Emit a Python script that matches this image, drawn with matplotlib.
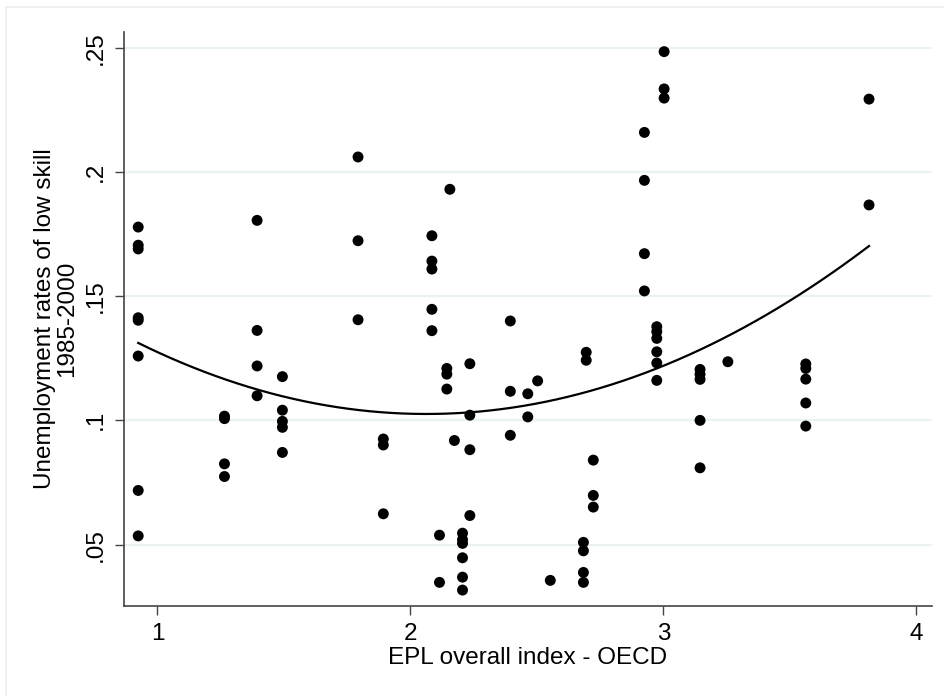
import numpy as np
import matplotlib.pyplot as plt
from matplotlib.patches import Rectangle

# EPL index (x) and low-skill unemployment rate (y)
epl = [
    0.924, 0.924, 0.924, 0.924, 0.924, 0.924, 0.924, 0.924,
    1.265, 1.265, 1.265, 1.265,
    1.394, 1.394, 1.394, 1.394,
    1.494, 1.494, 1.494, 1.494, 1.494,
    1.793, 1.793, 1.793,
    1.893, 1.893, 1.893,
    2.085, 2.085, 2.085, 2.085, 2.085,
    2.156,
    2.144, 2.144, 2.144,
    2.115, 2.115,
    2.174,
    2.235, 2.235, 2.235, 2.235,
    2.206, 2.206, 2.206, 2.206, 2.206, 2.206,
    2.395, 2.395, 2.395,
    2.464, 2.464,
    2.503,
    2.553,
    2.695, 2.695,
    2.684, 2.684, 2.684, 2.684,
    2.723, 2.723, 2.723,
    2.925, 2.925, 2.925, 2.925,
    2.974, 2.974, 2.974, 2.974, 2.974, 2.974,
    3.003, 3.003, 3.003,
    3.145, 3.145, 3.145, 3.145, 3.145,
    3.255,
    3.563, 3.563, 3.563, 3.563, 3.563,
    3.813, 3.813,
]
unemp = [
    0.1778, 0.1705, 0.1690, 0.1413, 0.1403, 0.1259, 0.0718, 0.0535,
    0.1017, 0.1007, 0.0825, 0.0774,
    0.1805, 0.1362, 0.1219, 0.1099,
    0.1176, 0.1041, 0.0996, 0.0972, 0.0871,
    0.2060, 0.1723, 0.1405,
    0.0925, 0.0901, 0.0624,
    0.1743, 0.1641, 0.1609, 0.1447, 0.1361,
    0.1930,
    0.1209, 0.1186, 0.1126,
    0.0538, 0.0348,
    0.0919,
    0.1228, 0.1021, 0.0882, 0.0617,
    0.0546, 0.0520, 0.0505, 0.0447, 0.0369, 0.0317,
    0.1400, 0.1117, 0.0940,
    0.1107, 0.1014,
    0.1159,
    0.0356,
    0.1274, 0.1242,
    0.0509, 0.0475, 0.0388, 0.0348,
    0.0840, 0.0698, 0.0651,
    0.2159, 0.1966, 0.1671, 0.1521,
    0.1377, 0.1357, 0.1330, 0.1276, 0.1231, 0.1161,
    0.2484, 0.2334, 0.2297,
    0.1205, 0.1186, 0.1165, 0.1000, 0.0809,
    0.1236,
    0.1227, 0.1209, 0.1166, 0.1070, 0.0977,
    0.2293, 0.1867,
]

x_ticks = [1, 2, 3, 4]
y_ticks = [0.05, 0.10, 0.15, 0.20, 0.25]
y_tick_labels = ['.05', '.1', '.15', '.2', '.25']

plt.rcParams['font.family'] = ['Liberation Sans', 'DejaVu Sans']

fig = plt.figure(figsize=(9.44, 6.96), dpi=100)
ax = fig.add_axes([0.1314, 0.1297, 0.8559, 0.8243])

# faint graph-region border (only top and left edges show)
fig.patches.append(Rectangle((6 / 944, -0.1), 1.2, 1 - 7 / 696 + 0.1,
                             transform=fig.transFigure, fill=False,
                             edgecolor='#eeeeee', linewidth=1.2))

for yt in y_ticks:
    ax.axhline(yt, color='#eaf2f3', linewidth=1.6, zorder=0)

ax.scatter(epl, unemp, s=62, color='black', edgecolors='none', zorder=3)

# quadratic fit, like Stata's qfit
coef = np.polyfit(epl, unemp, 2)
xs = np.linspace(min(epl), max(epl), 200)
ax.plot(xs, np.polyval(coef, xs), color='black', linewidth=1.6, zorder=2)

ax.set_xlim(0.868, 4.062)
ax.set_ylim(0.0254, 0.2563)
ax.set_xticks(x_ticks)
ax.set_xticklabels([str(t) for t in x_ticks])
ax.set_yticks(y_ticks)
ax.set_yticklabels(y_tick_labels, rotation=90, va='center')

for side in ['top', 'right']:
    ax.spines[side].set_visible(False)
for side in ['left', 'bottom']:
    ax.spines[side].set_color('#444444')
    ax.spines[side].set_linewidth(1.2)

ax.tick_params(axis='both', direction='out', length=6.5, width=1,
               color='#444444', labelsize=17.5, pad=6)

ax.set_xlabel('EPL overall index - OECD', fontsize=17.5)
ax.xaxis.set_label_coords(0.5, -0.091)
ax.xaxis.label.set_va('center')
ax.set_ylabel('Unemployment rates of low skill\n1985-2000', fontsize=17.5,
              linespacing=1.05)
ax.yaxis.set_label_coords(-0.084, 0.5)
ax.yaxis.label.set_va('center')

fig.savefig('out.png', dpi=100)
